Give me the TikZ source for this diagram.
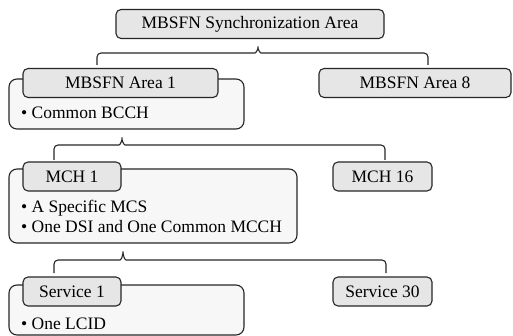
\documentclass[tikz,border=0pt]{standalone}
\usepackage{fontspec}
\setmainfont{Liberation Serif}
\usetikzlibrary{calc}
\definecolor{headgray}{HTML}{E6E6E6}
\definecolor{boxgray}{HTML}{F7F7F7}
\definecolor{edgegray}{HTML}{262626}
\tikzset{
	% header tab and the body box hanging under it
	head node/.style={draw=edgegray,fill=headgray,rounded corners=5,line width=1.1pt,inner sep=0,minimum height=29},
	body node/.style={draw=edgegray,fill=boxgray,rounded corners=8,line width=1.1pt,inner sep=0},
	item text/.style={anchor=base west,inner sep=0},
	brace line/.style={draw=edgegray,line width=1.1pt,rounded corners=4}
}
% brace from a tip down to two end points: #1 tip, #2 left end, #3 right end, #4 drop
\newcommand{\groupbrace}[4]{
	\draw[brace line] (#2) |- ($(#1)+(-7,#4)$) .. controls ($(#1)+(-2,#4)$) and ($(#1)+(0,#4-4)$) .. (#1)
		.. controls ($(#1)+(0,#4-4)$) and ($(#1)+(2,#4)$) .. ($(#1)+(7,#4)$) -| (#3);
}

\begin{document}
\begin{tikzpicture}[x=1pt,y=-1pt,font=\fontsize{17.5}{21}\selectfont]
\useasboundingbox (0,0) rectangle (513,336);

% level 0
\node(syncarea)[head node,minimum width=268] at (250,24) {MBSFN Synchronization Area};

% level 1: MBSFN areas
\node(area1box)[body node,minimum width=235,minimum height=50] at (126.5,104) {};
\node(area1)[head node,minimum width=195] at (120.5,83) {MBSFN Area 1};
\node(area8)[head node,minimum width=192] at (415,83) {MBSFN Area 8};
\node(area1item)[item text] at (21,119) {• Common BCCH};

% level 2: MCHs
\node(mch1box)[body node,minimum width=288,minimum height=74] at (153,206) {};
\node(mch1)[head node,minimum width=98] at (72,176.5) {MCH 1};
\node(mch16)[head node,minimum width=99] at (382.5,176.5) {MCH 16};
\node(mch1itema)[item text] at (21,213) {• A Specific MCS};
\node(mch1itemb)[item text] at (21,233) {• One DSI and One Common MCCH};

% level 3: services
\node(svc1box)[body node,minimum width=235,minimum height=50] at (126.5,310) {};
\node(svc1)[head node,minimum width=98] at (72,291.5) {Service 1};
\node(svc30)[head node,minimum width=99] at (382.5,291.5) {Service 30};
\node(svc1item)[item text] at (21,329) {• One LCID};

% braces between levels
\coordinate(tip1) at (258,44);
\coordinate(left1) at (97,65);
\coordinate(right1) at (428,65);
\groupbrace{tip1}{left1}{right1}{9}

\coordinate(tip2) at (122,135);
\coordinate(left2) at (54,160);
\coordinate(right2) at (385,160);
\groupbrace{tip2}{left2}{right2}{10}

\coordinate(tip3) at (123,249);
\coordinate(left3) at (54,273);
\coordinate(right3) at (386,273);
\groupbrace{tip3}{left3}{right3}{11}

\end{tikzpicture}
\end{document}
